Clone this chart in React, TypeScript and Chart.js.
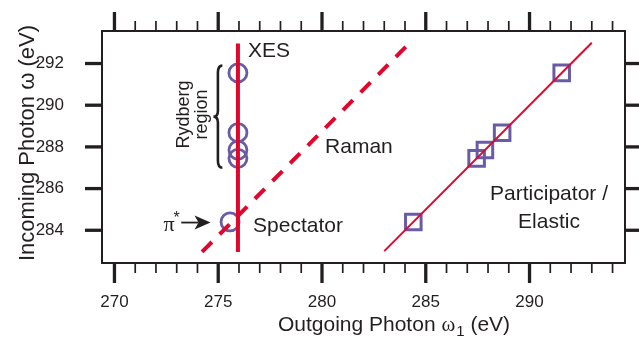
import React, { useEffect, useRef } from 'react';
import { Chart, registerables } from 'chart.js';

Chart.register(...registerables);

// ---- axes ----
const X_MIN = 269.4;
const X_MAX = 294.6;
const Y_MIN = 282.43;
const Y_MAX = 293.56;
const xMajorTicks = [270, 275, 280, 285, 290];
const xMinorTicks = [271, 272, 273, 274, 276, 277, 278, 279, 281, 282, 283, 284, 286, 287, 288, 289, 291, 292, 293, 294];
const yMajorTicks = [284, 286, 288, 290, 292];
const xTitle = 'Outgoing Photon ';
const xTitleSymbol = 'ω';
const xTitleSub = '1';
const xTitleUnit = ' (eV)';
const yTitle = 'Incoming Photon ω (eV)';

// ---- data (omega = incoming photon, omega1 = outgoing photon) ----
const markerOmega = [284.4, 287.45, 287.85, 288.68, 291.55];
const xesMarkerOmega1 = [275.57, 275.95, 275.95, 275.95, 275.95];
const elasticMarkerOmega1 = [284.4, 287.45, 287.85, 288.68, 291.55];

const xesLineOmega1 = [275.95, 275.95];
const xesLineOmega = [282.96, 292.96];
const ramanLineOmega1 = [274.22, 284.2];
const ramanLineOmega = [282.96, 292.96];
const elasticLineOmega1 = [283.0, 293.0];
const elasticLineOmega = [283.0, 293.0];

// ---- annotation anchors (data coordinates) ----
const labelXES = { text: 'XES', x: 276.44, y: 292.3 };
const labelRaman = { text: 'Raman', x: 280.15, y: 287.7 };
const labelSpectator = { text: 'Spectator', x: 276.68, y: 283.9 };
const labelParticipator = { lines: ['Participator /', 'Elastic'], x: 290.94, y: [285.44, 284.13] };
const labelRydberg = { lines: ['Rydberg', 'region'], x: 273.77, y: 289.55 };
const braceAnchor = { xEnd: 275.2, xTip: 274.77, yTop: 291.9, yBottom: 287.0 };
const arrowAnchor = { xTail: 273.22, xTip: 274.63, y: 284.37 };
const labelPiStar = { x: 273.15, y: 283.95 };

const RED = '#e3062c';
const PURPLE = '#6a5ba6';
const INK = '#231f20';
const SANS = '"Liberation Sans", Arial, sans-serif';
const SERIF = '"Liberation Serif", "Times New Roman", serif';

const toXY = (xs: number[], ys: number[]) => xs.map((v, i) => ({ x: v, y: ys[i] }));

const decor = {
  id: 'decor',
  afterDraw(chart: any) {
    const { ctx, chartArea: a } = chart;
    const sx = chart.scales.x;
    const sy = chart.scales.y;
    const X = (v: number) => sx.getPixelForValue(v);
    const Y = (v: number) => sy.getPixelForValue(v);
    ctx.save();
    ctx.strokeStyle = INK;
    ctx.fillStyle = INK;
    ctx.lineCap = 'butt';

    const seg = (x1: number, y1: number, x2: number, y2: number, w: number) => {
      ctx.lineWidth = w;
      ctx.beginPath();
      ctx.moveTo(x1, y1);
      ctx.lineTo(x2, y2);
      ctx.stroke();
    };

    // frame
    ctx.lineWidth = 2;
    ctx.strokeRect(a.left, a.top, a.right - a.left, a.bottom - a.top);

    // ticks
    xMinorTicks.forEach((v) => {
      const px = X(v);
      seg(px, a.top, px, a.top - 10, 1.7);
      seg(px, a.bottom, px, a.bottom + 10, 1.7);
    });
    xMajorTicks.forEach((v) => {
      const px = X(v);
      seg(px, a.top, px, a.top - 19, 3.3);
      seg(px, a.bottom, px, a.bottom + 20, 3.3);
    });
    yMajorTicks.forEach((v) => {
      const py = Y(v);
      seg(a.left, py, a.left - 17, py, 3.3);
      seg(a.right, py, a.right + 17, py, 3.3);
    });

    // axis titles
    ctx.textBaseline = 'alphabetic';
    const tf = `21px ${SANS}`;
    const sf = `21px ${SERIF}`;
    const subf = `15px ${SANS}`;
    ctx.font = tf;
    const w1 = ctx.measureText(xTitle).width;
    ctx.font = sf;
    const w2 = ctx.measureText(xTitleSymbol).width;
    ctx.font = subf;
    const w3 = ctx.measureText(xTitleSub).width;
    ctx.font = tf;
    const w4 = ctx.measureText(xTitleUnit).width;
    const total = w1 + w2 + w3 + w4;
    const cx = (a.left + a.right) / 2 + 30;
    let tx = cx - total / 2;
    const ty = 331;
    ctx.textAlign = 'left';
    ctx.font = tf;
    ctx.fillText(xTitle, tx, ty);
    tx += w1;
    ctx.font = sf;
    ctx.fillText(xTitleSymbol, tx, ty);
    tx += w2;
    ctx.font = subf;
    ctx.fillText(xTitleSub, tx + 1, ty + 5);
    tx += w3 + 1;
    ctx.font = tf;
    ctx.fillText(xTitleUnit, tx, ty);

    ctx.save();
    ctx.translate(34, (a.top + a.bottom) / 2 - 4);
    ctx.rotate(-Math.PI / 2);
    ctx.textAlign = 'center';
    ctx.font = `22px ${SANS}`;
    ctx.fillText(yTitle, 0, 0);
    ctx.restore();

    // annotations
    ctx.font = `21px ${SANS}`;
    ctx.textAlign = 'left';
    ctx.fillText(labelXES.text, X(labelXES.x), Y(labelXES.y));
    ctx.fillText(labelRaman.text, X(labelRaman.x), Y(labelRaman.y));
    ctx.fillText(labelSpectator.text, X(labelSpectator.x), Y(labelSpectator.y));
    ctx.textAlign = 'center';
    labelParticipator.lines.forEach((t, i) => {
      ctx.fillText(t, X(labelParticipator.x), Y(labelParticipator.y[i]));
    });

    // Rydberg region (rotated)
    ctx.save();
    ctx.translate(X(labelRydberg.x), Y(labelRydberg.y));
    ctx.rotate(-Math.PI / 2);
    ctx.font = `18px ${SANS}`;
    ctx.textAlign = 'center';
    ctx.textBaseline = 'middle';
    ctx.fillText(labelRydberg.lines[0], 0, -9);
    ctx.fillText(labelRydberg.lines[1], 0, 9);
    ctx.restore();

    // brace
    {
      const xe = X(braceAnchor.xEnd);
      const xt = X(braceAnchor.xTip);
      const yt = Y(braceAnchor.yTop);
      const yb = Y(braceAnchor.yBottom);
      const ym = (yt + yb) / 2;
      const xm = (xe + xt) / 2;
      ctx.lineWidth = 2.6;
      ctx.beginPath();
      ctx.moveTo(xe, yt);
      ctx.quadraticCurveTo(xm, yt, xm, yt + 7);
      ctx.lineTo(xm, ym - 6);
      ctx.quadraticCurveTo(xm, ym, xt, ym);
      ctx.quadraticCurveTo(xm, ym, xm, ym + 6);
      ctx.lineTo(xm, yb - 7);
      ctx.quadraticCurveTo(xm, yb, xe, yb);
      ctx.stroke();
    }

    // arrow
    {
      const x0 = X(arrowAnchor.xTail);
      const x1 = X(arrowAnchor.xTip);
      const y0 = Y(arrowAnchor.y);
      seg(x0, y0, x1 - 12, y0, 1.8);
      ctx.beginPath();
      ctx.moveTo(x1, y0);
      ctx.lineTo(x1 - 16, y0 - 7);
      ctx.lineTo(x1 - 12, y0);
      ctx.lineTo(x1 - 16, y0 + 7);
      ctx.closePath();
      ctx.fill();
    }

    // pi*
    {
      const xr = X(labelPiStar.x);
      const yb = Y(labelPiStar.y);
      ctx.textAlign = 'right';
      ctx.font = `16px ${SANS}`;
      const ws = ctx.measureText('*').width;
      ctx.fillText('*', xr, yb - 8);
      ctx.font = `22px ${SERIF}`;
      ctx.fillText('π', xr - ws + 1, yb);
    }

    ctx.restore();
  },
};

export default function App() {
  const ref = useRef<HTMLCanvasElement>(null);
  useEffect(() => {
    if (!ref.current) return;
    const lineBase = { showLine: true, pointRadius: 0, fill: false, borderColor: RED, backgroundColor: RED };
    const chart = new Chart(ref.current, {
      type: 'scatter',
      data: {
        datasets: [
          { ...lineBase, label: 'XES', data: toXY(xesLineOmega1, xesLineOmega), borderWidth: 4 },
          { ...lineBase, label: 'Raman', data: toXY(ramanLineOmega1, ramanLineOmega), borderWidth: 4, borderDash: [14, 11] },
          { ...lineBase, label: 'Elastic', data: toXY(elasticLineOmega1, elasticLineOmega), borderWidth: 2 },
          {
            label: 'XES points',
            data: toXY(xesMarkerOmega1, markerOmega),
            pointStyle: 'circle',
            pointRadius: 9,
            pointBorderWidth: 2.8,
            pointBorderColor: PURPLE,
            pointBackgroundColor: 'rgba(0,0,0,0)',
          },
          {
            label: 'Participator points',
            data: toXY(elasticMarkerOmega1, markerOmega),
            pointStyle: 'rect',
            pointRadius: 11,
            pointBorderWidth: 3,
            pointBorderColor: PURPLE,
            pointBackgroundColor: 'rgba(0,0,0,0)',
          },
        ],
      } as any,
      options: {
        animation: false,
        responsive: false,
        devicePixelRatio: 1,
        layout: { padding: { top: 31, right: 7, left: 0, bottom: 0 } },
        plugins: { legend: { display: false }, tooltip: { enabled: false } },
        scales: {
          x: {
            type: 'linear',
            min: X_MIN,
            max: X_MAX,
            grid: { display: false },
            border: { display: false },
            afterBuildTicks: (s: any) => { s.ticks = xMajorTicks.map((v) => ({ value: v })); },
            afterFit: (s: any) => {
              s.height = 74;
              s.paddingLeft = 0;
              s.paddingRight = 0;
              s.paddingTop = 0;
              s.paddingBottom = 0;
            },
            ticks: {
              padding: 21,
              maxRotation: 0,
              autoSkip: false,
              color: INK,
              font: { family: SANS, size: 17 },
              callback: (v: any) => String(v),
            },
          },
          y: {
            type: 'linear',
            min: Y_MIN,
            max: Y_MAX,
            grid: { display: false },
            border: { display: false },
            afterBuildTicks: (s: any) => { s.ticks = yMajorTicks.map((v) => ({ value: v })); },
            afterFit: (s: any) => {
              s.width = 102;
              s.paddingLeft = 0;
              s.paddingRight = 0;
              s.paddingTop = 0;
              s.paddingBottom = 0;
            },
            ticks: {
              padding: 30,
              autoSkip: false,
              color: INK,
              font: { family: SANS, size: 17 },
              callback: (v: any) => String(v),
            },
          },
        },
      } as any,
      plugins: [decor],
    });
    return () => chart.destroy();
  }, []);
  return (
    <div style={{ position: 'absolute', left: 0, top: 0, width: 639, height: 337, background: '#fff' }}>
      <canvas ref={ref} width={639} height={337} style={{ display: 'block' }} />
    </div>
  );
}
